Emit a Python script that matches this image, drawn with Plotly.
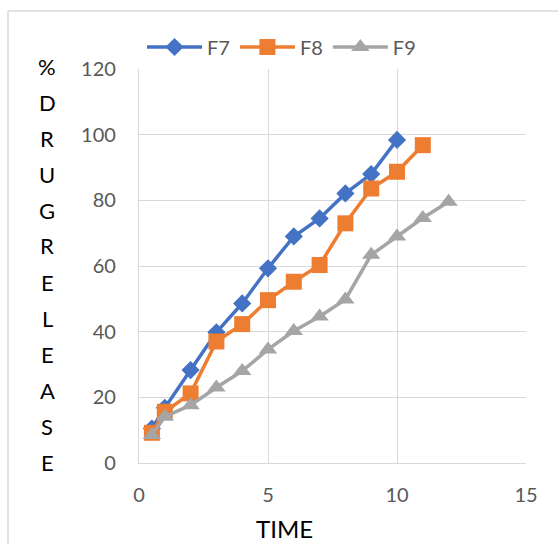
import plotly.graph_objects as go

# Sampling times (h) for each formulation
time_f7 = [0.5, 1, 2, 3, 4, 5, 6, 7, 8, 9, 10]
time_f8 = [0.5, 1, 2, 3, 4, 5, 6, 7, 8, 9, 10, 11]
time_f9 = [0.5, 1, 2, 3, 4, 5, 6, 7, 8, 9, 10, 11, 12]

# Cumulative % drug release
release_f7 = [10.5, 16.8, 28.3, 39.8, 48.6, 59.3, 69.0, 74.5, 82.1, 88.0, 98.4]
release_f8 = [9.2, 15.6, 21.2, 37.0, 42.3, 49.6, 55.2, 60.3, 73.0, 83.6, 88.7, 96.8]
release_f9 = [8.5, 14.1, 17.6, 23.0, 28.0, 34.6, 40.2, 44.6, 49.8, 63.4, 69.0, 74.6, 79.6]

x_ticks = [0, 5, 10, 15]
y_ticks = [0, 20, 40, 60, 80, 100, 120]
y_title = "%DRUGRELEASE"

FONT = "Lato"
GRID = "#D9D9D9"
TICK = "#595959"

fig = go.Figure()
series = [
    ("F7", time_f7, release_f7, "#4472C4", "diamond", 14),
    ("F8", time_f8, release_f8, "#ED7D31", "square", 16),
    ("F9", time_f9, release_f9, "#A5A5A5", "triangle-up", 16),
]
for name, xs, ys, color, symbol, size in series:
    fig.add_trace(go.Scatter(
        x=xs, y=ys, name=name, mode="lines+markers",
        line=dict(color=color, width=3.5),
        marker=dict(symbol=symbol, size=size, color=color,
                    line=dict(width=0)),
    ))

# Vertically stacked y-axis title, one character per row
top_px, step_px = 66, 36
for i, ch in enumerate(y_title):
    py = top_px + i * step_px
    fig.add_annotation(
        x=(47 - 139) / 387, y=(463 - py) / 394, xref="paper", yref="paper",
        text=ch, showarrow=False, xanchor="center", yanchor="middle",
        font=dict(family=FONT, size=22, color="black"),
    )

fig.add_annotation(
    x=(284 - 139) / 387, y=(463 - 528) / 394, xref="paper", yref="paper",
    text="TIME", showarrow=False, xanchor="center", yanchor="middle",
    font=dict(family=FONT, size=24, color="black"),
)

# Outer chart frame
left = (8 - 139) / 387
topy = (463 - 11) / 394
fig.add_shape(type="line", xref="paper", yref="paper",
              x0=left, x1=left, y0=(463 - 560) / 394, y1=topy,
              line=dict(color=GRID, width=1.5))
fig.add_shape(type="line", xref="paper", yref="paper",
              x0=left, x1=(570 - 139) / 387, y0=topy, y1=topy,
              line=dict(color=GRID, width=1.5))

fig.update_xaxes(
    range=[0, 15], tickvals=x_ticks, showgrid=True, gridcolor=GRID,
    gridwidth=1.3, showline=True, linecolor=GRID, linewidth=1.3,
    zeroline=False, mirror=False, ticks="", ticklabelstandoff=14,
    tickfont=dict(family=FONT, size=20, color=TICK),
)
fig.update_yaxes(
    range=[0, 120], tickvals=y_ticks, showgrid=True, gridcolor=GRID,
    gridwidth=1.3, showline=True, linecolor=GRID, linewidth=1.3,
    zeroline=False, ticks="", ticklabelstandoff=18,
    tickfont=dict(family=FONT, size=20, color=TICK),
)

fig.update_layout(
    width=558, height=544,
    margin=dict(l=139, r=32, t=69, b=81),
    plot_bgcolor="white", paper_bgcolor="white",
    showlegend=True,
    legend=dict(
        orientation="h", x=(142 - 139) / 387, y=(463 - 47) / 394,
        xanchor="left", yanchor="middle", itemwidth=55,
        font=dict(family=FONT, size=20, color=TICK),
        bgcolor="rgba(0,0,0,0)", traceorder="normal",
    ),
)

fig.write_html("out.html")
